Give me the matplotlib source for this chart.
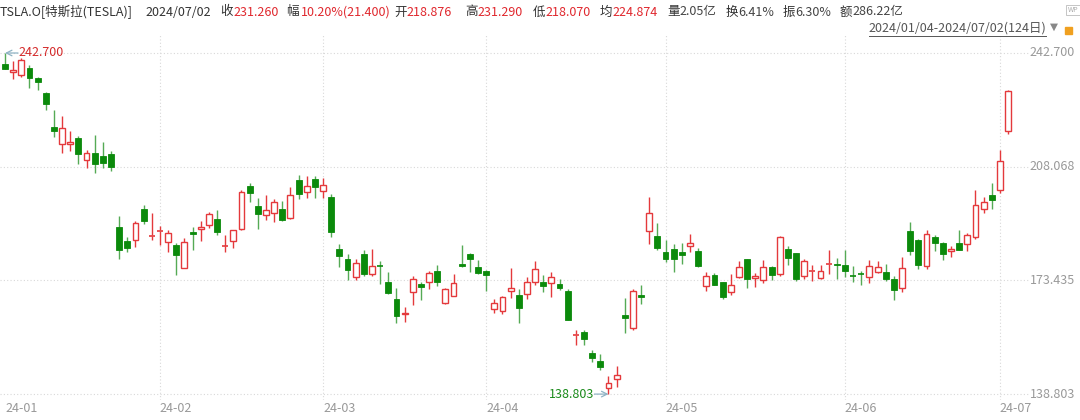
import matplotlib
matplotlib.use('Agg')
import matplotlib.pyplot as plt
import numpy as np

plt.rcParams['font.family'] = ['Noto Sans CJK SC', 'DejaVu Sans']

# TSLA.O daily OHLC, 2024/01/04 - 2024/07/02 (124 trading days)
dates = ['01-04','01-05','01-08','01-09','01-10','01-11','01-12','01-16','01-17','01-18',
         '01-19','01-22','01-23','01-24','01-25','01-26','01-29','01-30','01-31',
         '02-01','02-02','02-05','02-06','02-07','02-08','02-09','02-12','02-13','02-14',
         '02-15','02-16','02-20','02-21','02-22','02-23','02-26','02-27','02-28','02-29',
         '03-01','03-04','03-05','03-06','03-07','03-08','03-11','03-12','03-13','03-14',
         '03-15','03-18','03-19','03-20','03-21','03-22','03-25','03-26','03-27','03-28',
         '04-01','04-02','04-03','04-04','04-05','04-08','04-09','04-10','04-11','04-12',
         '04-15','04-16','04-17','04-18','04-19','04-22','04-23','04-24','04-25','04-26',
         '04-29','04-30',
         '05-01','05-02','05-03','05-06','05-07','05-08','05-09','05-10','05-13','05-14',
         '05-15','05-16','05-17','05-20','05-21','05-22','05-23','05-24','05-28','05-29',
         '05-30','05-31',
         '06-03','06-04','06-05','06-06','06-07','06-10','06-11','06-12','06-13','06-14',
         '06-17','06-18','06-20','06-21','06-24','06-25','06-26','06-27','06-28',
         '07-01','07-02']

opens = [239.25,236.86,236.14,238.11,235.10,230.57,220.08,215.10,214.86,216.88,
         209.99,212.26,211.30,211.88,189.70,185.50,185.63,195.33,187.00,
         188.50,185.04,184.26,177.21,188.18,189.00,190.18,192.11,183.99,185.30,
         189.16,202.06,196.13,193.36,194.00,195.31,192.29,204.04,200.42,204.18,
         200.52,198.73,183.05,179.99,174.35,181.50,175.45,177.77,173.05,167.77,
         163.16,170.02,172.36,173.00,176.39,166.69,168.76,178.58,181.41,177.45,
         176.17,164.75,164.02,170.07,169.08,169.34,172.91,173.04,172.55,172.34,
         170.24,156.74,157.64,151.25,148.97,140.56,143.33,162.84,158.96,168.85,
         188.42,186.98,
         182.00,182.86,182.10,183.80,182.40,171.59,175.01,173.05,170.00,174.50,
         179.90,174.10,173.55,177.56,175.51,182.85,181.80,174.84,176.40,174.19,
         178.58,178.50,
         178.13,174.78,175.35,174.60,176.13,176.06,173.92,171.12,188.39,185.80,
         177.92,186.56,184.68,182.30,184.97,184.40,186.54,195.17,199.55,
         201.02,218.876]

highs = [242.70,240.12,241.25,238.96,235.50,230.93,225.34,223.49,218.99,217.45,
         213.19,217.80,215.65,212.73,193.00,186.78,191.48,196.36,193.97,
         189.88,188.69,184.68,186.49,189.79,191.62,194.12,194.73,187.26,188.89,
         200.88,203.17,198.60,199.44,198.32,197.57,201.78,205.60,205.30,205.28,
         204.52,199.75,184.59,181.58,180.04,182.73,182.87,179.43,176.05,171.17,
         165.18,174.72,172.82,176.25,178.18,171.20,175.24,184.25,181.91,179.57,
         176.75,167.69,168.82,177.19,170.86,174.50,179.22,174.93,175.88,173.81,
         170.69,158.19,158.33,152.20,150.94,144.44,147.26,167.97,170.88,172.12,
         198.87,190.95,
         185.86,184.60,184.78,187.56,183.26,176.06,175.62,173.06,175.40,179.49,
         179.99,175.79,179.63,177.75,186.88,183.80,181.90,180.08,178.25,178.15,
         182.67,180.32,
         182.64,177.76,176.15,179.73,179.35,178.57,174.75,180.55,191.08,186.00,
         188.81,187.20,185.21,183.95,188.80,187.97,201.00,198.72,203.20,
         213.23,231.29]

lows = [237.73,234.90,235.30,232.04,231.29,225.37,217.15,212.18,212.73,208.74,
        207.56,206.27,207.75,206.77,180.06,182.10,183.67,190.61,185.85,
        184.28,182.00,175.01,177.11,182.68,185.58,189.48,187.28,182.11,183.35,
        188.86,197.40,189.13,191.95,191.36,191.50,192.00,198.26,198.44,198.45,
        198.50,186.72,177.57,173.70,173.70,174.70,174.80,172.41,169.15,160.51,
        160.76,165.90,167.42,170.82,171.80,166.30,168.73,177.38,176.00,175.30,
        170.21,163.43,163.28,168.01,160.51,167.79,171.92,170.01,168.51,170.36,
        161.38,153.75,153.78,148.70,146.22,138.803,141.11,157.51,158.36,166.37,
        184.54,182.84,
        179.01,176.02,178.42,182.20,177.40,170.15,172.05,167.75,169.00,174.07,
        171.16,171.43,172.75,173.52,174.71,178.12,173.26,173.73,173.16,173.93,
        175.38,173.82,
        174.49,173.00,172.13,172.73,175.58,173.17,167.41,169.80,181.23,176.92,
        177.00,182.37,179.66,180.69,182.55,182.41,186.16,194.05,195.26,
        200.00,218.07]

closes = [237.93,237.49,240.45,234.96,233.94,227.22,218.89,219.91,215.55,211.88,
          212.19,208.80,209.14,207.83,182.63,183.25,190.93,191.59,187.29,
          188.86,187.91,181.06,185.10,187.58,189.56,193.57,188.13,184.02,188.71,
          200.45,199.95,193.76,194.77,197.41,191.97,199.40,199.73,202.04,201.88,
          202.64,188.14,180.74,176.54,178.65,175.34,177.77,177.54,169.48,162.50,
          163.57,173.80,171.32,175.66,172.82,170.83,172.63,177.67,179.83,175.79,
          175.22,166.63,168.38,171.11,164.90,172.98,176.88,171.76,174.60,171.05,
          161.48,157.11,155.45,149.93,147.05,142.05,144.68,162.13,170.18,168.29,
          194.05,183.28,
          179.99,180.01,181.19,184.76,177.81,174.72,171.97,168.47,171.89,177.55,
          173.99,174.84,177.46,174.95,186.60,180.11,173.74,179.24,176.75,176.19,
          178.79,178.08,
          176.29,174.77,175.00,177.94,177.48,173.79,170.66,177.29,182.47,178.01,
          187.44,184.86,181.57,183.01,182.58,187.35,196.37,197.42,197.88,
          209.86,231.26]

month_labels = ['24-01', '24-02', '24-03', '24-04', '24-05', '24-06', '24-07']
y_ticks = [242.700, 208.068, 173.435, 138.803]

header = [('TSLA.O[特斯拉(TESLA)]', 0, '#333333'), ('2024/07/02', 145, '#333333'),
          ('收', 220, '#333333'), ('231.260', 233, '#e0282e'),
          ('幅', 286, '#333333'), ('10.20%(21.400)', 301, '#e0282e'),
          ('开', 394, '#333333'), ('218.876', 406, '#e0282e'),
          ('高', 465, '#333333'), ('231.290', 477, '#e0282e'),
          ('低', 533, '#333333'), ('218.070', 545, '#e0282e'),
          ('均', 600, '#333333'), ('224.874', 612, '#e0282e'),
          ('量', 667, '#333333'), ('2.05亿', 679, '#444444'),
          ('换', 726, '#333333'), ('6.41%', 738, '#444444'),
          ('振', 783, '#333333'), ('6.30%', 795, '#444444'),
          ('额', 840, '#333333'), ('286.22亿', 852, '#444444')]

RED = '#e4393c'
GREEN = '#0b8a0b'
GREEN_WICK = '#55aa55'
FS = 9

W, H = 1080, 420
fig = plt.figure(figsize=(W / 100, H / 100), dpi=100)
# plot area in pixels: x 0..1030, y 35..400 (from top)
ax = fig.add_axes([0, 20 / H, 1030 / W, 365 / H])

step = 8.155
x0 = 5
ax.set_xlim(-x0 / step, (1030 - x0) / step)
ax.set_ylim(242.7 - 347 / 3.283, 242.7 + 18 / 3.283)
for s in ax.spines.values():
    s.set_visible(False)
ax.set_xticks([])
ax.set_yticks([])

# grid
for v in y_ticks:
    ax.axhline(v, color='#d8d8d8', lw=0.8, ls=(0, (1, 2)), zorder=0)
month_idx = [0] + [i for i in range(1, len(dates)) if dates[i][:2] != dates[i - 1][:2]]
for k, i in enumerate(month_idx):
    if k > 0:
        ax.axvline(i, color='#d8d8d8', lw=0.8, ls=(0, (1, 2)), zorder=0)
    fig.text((x0 + i * step) / W if k > 0 else 5 / W, 11 / H, month_labels[k],
             color='#999999', fontsize=FS, ha='left', va='center')

# candles
bw = 0.72
for i in range(len(dates)):
    o, h, l, c = opens[i], highs[i], lows[i], closes[i]
    up = c >= o
    top, bot = max(o, c), min(o, c)
    if up:
        ax.vlines(i, top, h, color=RED, lw=1, zorder=2)
        ax.vlines(i, l, bot, color=RED, lw=1, zorder=2)
        if top - bot < 0.4:
            ax.hlines(o, i - bw / 2, i + bw / 2, color=RED, lw=1.2, zorder=3)
        else:
            ax.add_patch(plt.Rectangle((i - bw / 2, bot), bw, top - bot, facecolor='white',
                                       edgecolor=RED, lw=1, zorder=3))
    else:
        ax.vlines(i, l, h, color=GREEN_WICK, lw=1, zorder=2)
        if top - bot < 0.4:
            ax.hlines(o, i - bw / 2, i + bw / 2, color=GREEN, lw=1.2, zorder=3)
        else:
            ax.add_patch(plt.Rectangle((i - bw / 2, bot), bw, top - bot, facecolor=GREEN,
                                       edgecolor=GREEN, lw=0.6, zorder=3))

# max / min annotations
imax = int(np.argmax(highs))
imin = int(np.argmin(lows))
ax.annotate('', xy=(imax, highs[imax]), xytext=(13, 0), textcoords='offset pixels',
            arrowprops=dict(arrowstyle='->', color='#8fb3c4', lw=0.9, shrinkA=0, shrinkB=0))
ax.annotate(f'{highs[imax]:.3f}', xy=(imax, highs[imax]), xytext=(13, 0),
            textcoords='offset pixels', color='#d42a2a', fontsize=FS, va='center', ha='left')
ax.annotate('', xy=(imin, lows[imin]), xytext=(-14, 0), textcoords='offset pixels',
            arrowprops=dict(arrowstyle='->', color='#8fb3c4', lw=0.9, shrinkA=0, shrinkB=0))
ax.annotate(f'{lows[imin]:.3f}', xy=(imin, lows[imin]), xytext=(-14, 0),
            textcoords='offset pixels', color='#1a8a1a', fontsize=FS, va='center', ha='right')

# right axis labels
for v in y_ticks:
    ax.annotate(f'{v:.3f}', xy=(1.0, v), xycoords=('axes fraction', 'data'),
                xytext=(45, 0), textcoords='offset pixels', ha='right', va='center',
                color='#999999', fontsize=FS, annotation_clip=False)

# header
for txt, px, col in header:
    fig.text(px / W, 1 - 12 / H, txt, color=col, fontsize=FS, ha='left', va='center')
fig.text(1046 / W, 1 - 28 / H, '2024/01/04-2024/07/02(124日)', color='#555555',
         fontsize=FS, ha='right', va='center')
fig.add_artist(plt.Line2D([869 / W, 1046 / W], [1 - 36 / H, 1 - 36 / H], color='#555555', lw=0.7))
fig.text(1054 / W, 1 - 27 / H, '▼', color='#888888', fontsize=7.5, ha='center', va='center',
         family='DejaVu Sans')
fig.add_artist(plt.Rectangle((1065 / W, 1 - 34 / H), 7 / W, 7 / H, color='#f0a020'))
fig.text(1073 / W, 1 - 10 / H, 'WP', color='#aaaaaa', fontsize=5, ha='center', va='center',
         bbox=dict(boxstyle='square,pad=0.2', fc='white', ec='#bbbbbb', lw=0.6))

fig.savefig('out.png', dpi=100)
